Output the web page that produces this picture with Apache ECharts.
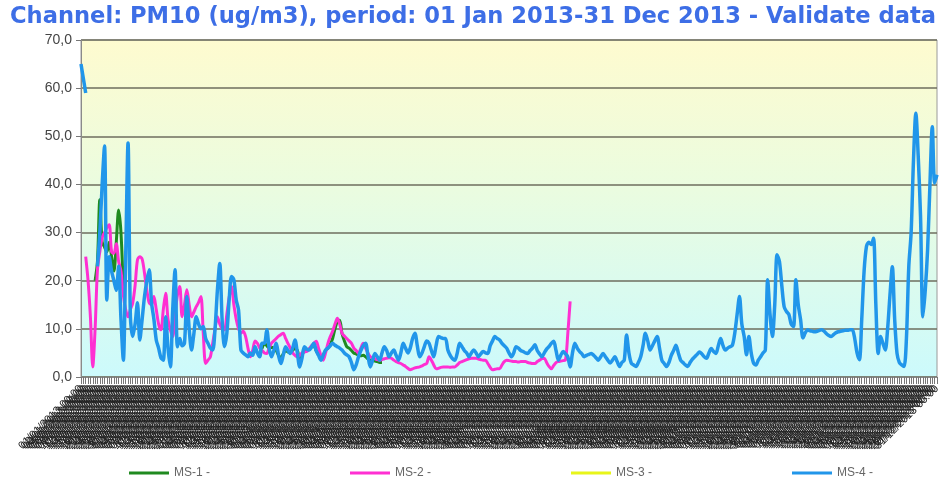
<!DOCTYPE html>
<html>
<head>
<meta charset="utf-8">
<script src="https://cdn.jsdelivr.net/npm/echarts@6/dist/echarts.min.js"></script>
<style>
  html, body { margin: 0; padding: 0; background: #fff; }
  #chart { width: 947px; height: 490px; }
</style>
</head>
<body>
<div id="chart"></div>
<script>
// series names
var seriesNames = ['MS-1 -', 'MS-2 -', 'MS-3 -', 'MS-4 -'];
var yTicks = [0, 10, 20, 30, 40, 50, 60, 70];

// MS-1 (green) - only a few stretches of data
var ms1 = [null,null,null,null,null,null,20,24,36.8,28,27,26,28,25,22,28,34.7,30,18,null,
  null,null,null,null,null,null,null,null,null,null,null,null,null,null,null,null,null,null,null,null,
  null,null,null,null,null,null,null,null,null,null,null,null,null,null,null,null,null,null,null,null,
  null,null,null,null,null,null,null,null,null,null,null,null,null,null,null,null,5,6,7,6.5,
  6,6.2,6,5.5,4.5,4,4.8,5.5,5.2,5,5.5,6,5.5,4,4.5,5.5,5.5,5.8,6.2,6.5,
  5.5,4.8,4,4.5,5.5,6,6.8,8,10,11.5,11.8,9,7.5,6.3,6,5.5,5,4.8,4.5,4.4,
  4.5,4.2,3.8,3.5,3.4,3.3,3.2,3,3,null];

// MS-2 (magenta)
var ms2 = [null,null,25,20,12.5,2.1,10,22.3,26,29,30,31,31.6,26,25.7,27.7,24,22,17,14,
  12.5,14,15.4,19,24.3,25,24.5,21.6,18,15.4,15,16.7,14,11,9.8,14,17.4,12,9.8,8.4,
  13,17,18.8,12.5,15,18.1,15,12.5,13.5,14.6,15.5,16.7,9,2.8,3.5,4.2,7,10,12.5,11,
  10,9.8,13,16.5,18.8,15,12,10,9.1,9.5,8.4,6,4.2,5.5,7.5,7,6,5.5,5,4.9,
  6,7,7.5,8,8.5,8.8,9.1,8,7,6,5,4.5,4.2,4.5,5,5.2,5.3,5.8,6.5,7,
  7.4,6,4.5,3.5,5,7,8.4,9.5,11,12.2,11,9.1,8.5,8,7.5,7,6,5.5,4.9,6,
  7,6,5,4.2,4,3.8,3.6,3.5,3.6,3.8,3.9,4,3.9,3.5,3.2,3,2.8,2.5,2.2,1.8,
  1.5,1.7,1.9,2,2.1,2.3,2.6,2.8,4.2,3.5,2.5,1.7,1.8,2,2.1,2.1,2.1,2,2.1,2.1,
  2.5,3,3.2,3.4,3.6,3.8,3.9,3.9,3.9,3.7,3.6,3.5,3.5,2.8,2,1.5,1.6,1.7,1.7,2.5,
  3.2,3.5,3.4,3.3,3.2,3.2,3.1,3.2,3.2,3.2,3,2.9,2.8,2.8,3.2,3.5,3.8,3.9,3,2.2,
  1.7,2.4,3,3.2,3.3,3.4,3.5,9,15.7];

// MS-3 (yellow) - no valid data in the period
var ms3 = [];

// MS-4 (blue)
var ms4 = [65,62,59,null,null,null,null,23,30,40,48,16,25,22,20,18,23,12,3.5,25,
  48.6,12.5,8.4,11,15.4,7.7,12,16.7,20,22.3,15.4,12,7.7,6,4,3.5,12.5,6,2.1,14,
  22.3,6.3,8,6.5,7,16.7,10,5.6,9,12.5,11,10,10.5,8,7,6,5.6,10,18,23.6,
  12,6.3,9,16,20.9,20.2,16,13.9,5.6,5,4.6,4.2,5,4.5,6.3,5,4.2,7,7,9.8,
  6,4.2,5.5,7,4.5,2.8,4.5,6.3,5.5,4.9,6,7.7,5,2.1,4,6.3,5.8,5.6,6.2,7,
  5.5,4.5,3.5,4.5,5.6,6,6.5,7,6.6,6.3,6,5.6,5,4.6,4.2,3,1.5,2.5,4.2,5.5,
  6.5,7,4.5,2.1,3.5,4.9,4.2,3.5,5,6.3,5.5,4.2,5,5.6,4.5,3.5,5,7,6,5,
  6,8,9.1,6.5,4.2,5,6.3,7.5,7,5.5,4.2,6.5,8.4,8.2,8,8,5.6,4.5,3.8,3.5,
  5,7,6.3,5.5,5,4.2,5,5.6,5,4.2,4.8,5.3,5,4.9,6.5,7.5,8.4,8,7.7,7,
  6.5,6,5,4.2,5,6.3,6,5.5,5.3,5,4.9,5.5,6,6.7,5.5,4.8,4.2,5,5.8,6.3,
  7,7.4,5.5,3.5,4.5,5.3,4.8,4.2,2.1,5,7,6,5.3,4.8,4.2,4.5,4.7,4.9,4.5,4,
  3.5,4.2,4.9,4.2,3.5,2.9,3.5,4.2,3.2,2.2,3,3.5,8.7,5,2.9,2.5,2.2,3,4.2,6.5,
  9.1,7.5,5.6,6.5,7.5,8.4,6,3.5,2.8,2.2,3,4.5,5.5,6.6,5,3.5,3,2.5,2.2,3,
  3.7,4.2,4.7,5.2,4.8,4.2,3.9,5,5.9,5.3,4.9,6.5,8,6.5,5.6,6,6.3,6.6,9.1,13,
  16.7,11,8.4,4.6,8.4,5,2.9,2.5,3.5,4.2,5,5.6,20.2,13,8.4,15,25.4,24,19,14.6,
  13.6,13,11,10.5,20.2,15,11.9,8.1,9.2,9.8,9.6,9.5,9.4,9.5,9.7,9.8,9.5,9,8.6,8.4,
  8.8,9.2,9.4,9.5,9.6,9.7,9.7,9.8,9.8,8,5,3.6,12,22,27.1,28,27.5,28.8,15,4.9,
  8.4,7,5.6,10,17,22.9,12,4.9,3,2.5,2.2,8,22.9,30,45,54.8,46,33.3,12.5,18,
  26.4,40,52,40.3,42];

// daily category labels for 2013
var days = [];
var d = new Date(Date.UTC(2013, 0, 1));
while (d.getUTCFullYear() === 2013) {
  var dd = ('0' + d.getUTCDate()).slice(-2);
  var mm = ('0' + (d.getUTCMonth() + 1)).slice(-2);
  days.push(dd + '/' + mm + '/2013 00:00');
  d.setUTCDate(d.getUTCDate() + 1);
}

var colors = ['#1f8a1f', '#ff2fd2', '#e8f51a', '#2196ea'];

var chart = echarts.init(document.getElementById('chart'));

function lineSeries(name, data, color, w) {
  return {
    name: name,
    type: 'line',
    data: data,
    smooth: 0.3,
    showSymbol: false,
    connectNulls: false,
    lineStyle: { width: w, color: color },
    itemStyle: { color: color }
  };
}

var option = {
  animation: false,
  title: {
    text: 'Channel: PM10 (ug/m3), period: 01 Jan 2013-31 Dec 2013 - Validate data',
    left: 5,
    top: 1,
    textStyle: {
      fontFamily: 'DejaVu Sans',
      fontSize: 22.6,
      fontWeight: 'bold',
      color: '#3d6ee6'
    }
  },
  color: colors,
  legend: {
    data: seriesNames,
    left: 124,
    top: 462,
    itemGap: 140,
    itemWidth: 40,
    itemHeight: 3,
    icon: 'rect',
    textStyle: { fontFamily: 'Liberation Sans', fontSize: 12, color: '#666' }
  },
  grid: {
    left: 81,
    right: 10,
    top: 40,
    bottom: 113,
    show: true,
    borderColor: '#9a9a9a',
    borderWidth: 1,
    backgroundColor: new echarts.graphic.LinearGradient(0, 0, 0, 1, [
      { offset: 0, color: '#fefbcf' },
      { offset: 0.45, color: '#eafce0' },
      { offset: 1, color: '#ccfafc' }
    ])
  },
  xAxis: {
    type: 'category',
    data: days,
    boundaryGap: false,
    axisLine: { lineStyle: { color: '#8a8a8a', width: 1 } },
    axisTick: { show: true, interval: 0, length: 7, lineStyle: { color: '#777' } },
    axisLabel: {
      interval: 0,
      rotate: 45,
      fontFamily: 'Liberation Sans',
      fontSize: 11,
      color: '#222',
      margin: 10
    },
    splitLine: { show: false }
  },
  yAxis: {
    type: 'value',
    min: yTicks[0],
    max: yTicks[yTicks.length - 1],
    interval: 10,
    axisLine: { show: true, lineStyle: { color: '#8a8a8a' } },
    axisTick: { show: true, length: 5, lineStyle: { color: '#777' } },
    axisLabel: {
      fontFamily: 'Liberation Sans',
      fontSize: 14,
      color: '#444',
      margin: 9,
      formatter: function (v) { return v.toFixed(1).replace('.', ','); }
    },
    splitLine: { lineStyle: { color: '#6e6e5e', width: 1.5 } }
  },
  series: [
    lineSeries(seriesNames[0], ms1, colors[0], 3),
    lineSeries(seriesNames[1], ms2, colors[1], 3),
    lineSeries(seriesNames[2], ms3, colors[2], 3),
    lineSeries(seriesNames[3], ms4, colors[3], 3.5)
  ]
};

chart.setOption(option);
</script>
</body>
</html>
